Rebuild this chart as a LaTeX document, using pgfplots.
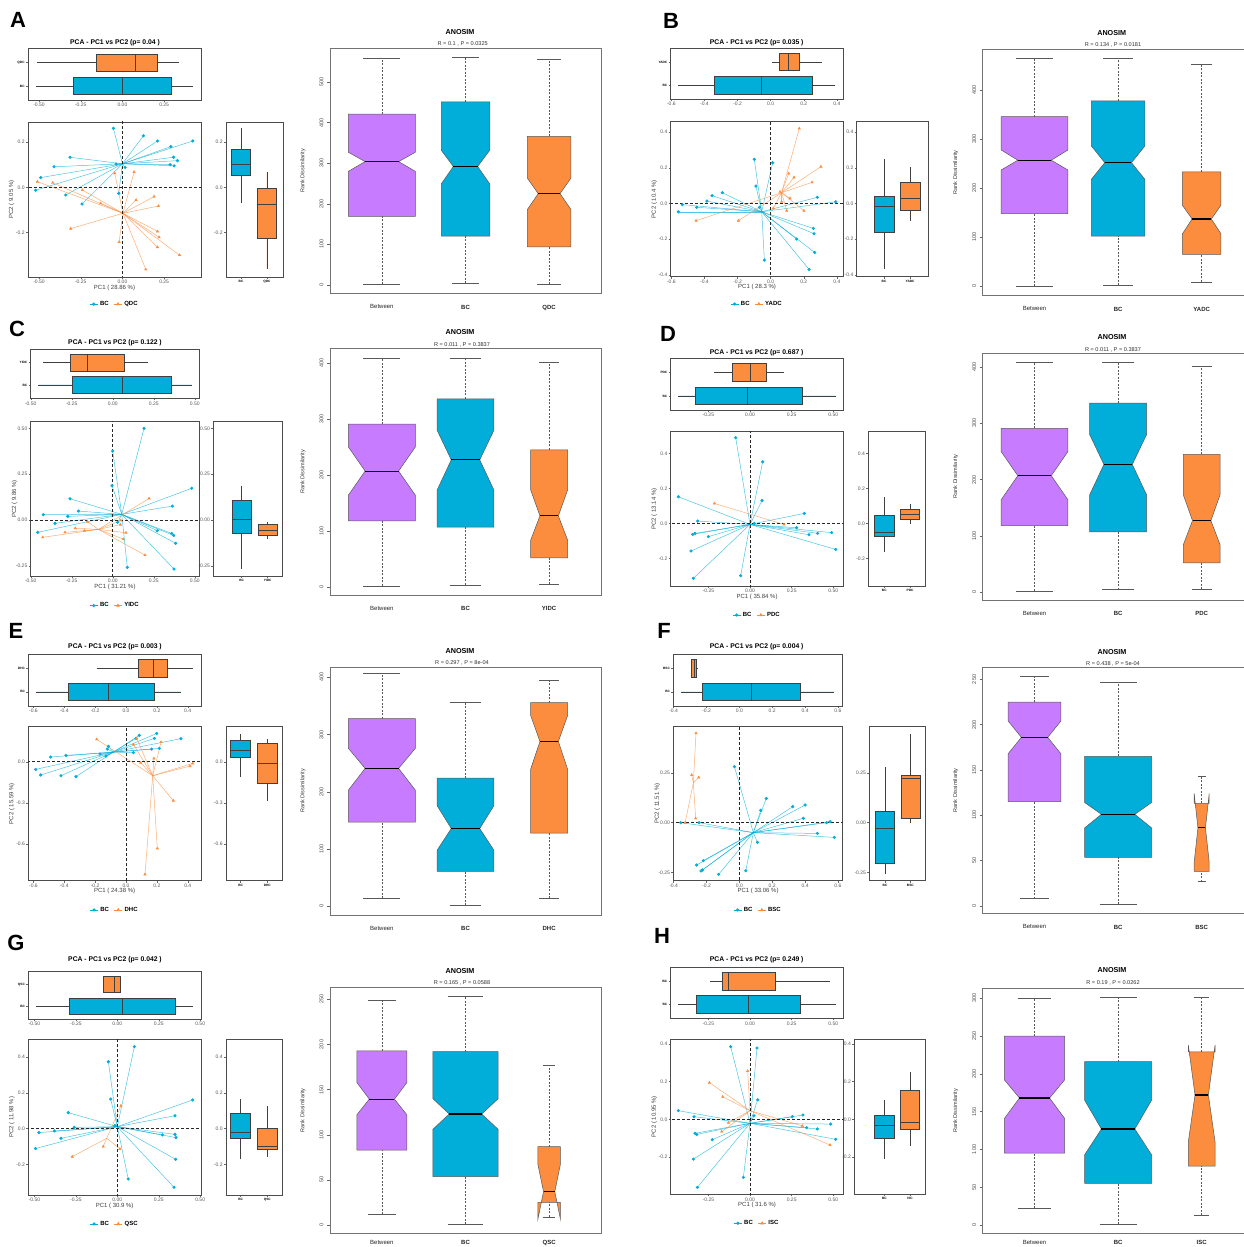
\documentclass[border=0pt]{standalone}
\usepackage{fontspec}
\setmainfont{Liberation Sans}
\usepackage{pgfplots}
\usepackage{pgfplotstable}
\pgfplotsset{compat=1.18}
\usepgfplotslibrary{statistics}

\definecolor{bcblue}{HTML}{00AED9}
\definecolor{orng}{HTML}{FC8D3F}
\definecolor{purp}{HTML}{C77CFF}
\colorlet{box1}{purp}
\colorlet{box2}{bcblue}
\colorlet{box3}{orng}

% ---------------- data: PCA scores ----------------
\pgfplotstableread{
x y
-0.054 0.261
0.126 0.228
0.21 0.205
0.422 0.205
0.29 0.18
0.307 0.133
0.33 0.118
0.286 0.1
0.31 0.095
-0.314 0.133
-0.41 0.091
-0.038 0.103
0.016 0.088
-0.49 0.043
-0.52 -0.013
-0.34 -0.034
-0.022 -0.027
-0.242 -0.074
}\tAbc
\pgfplotstableread{
x y
-0.51 0.025
-0.418 0.02
-0.046 0.062
0.07 0.068
-0.24 -0.012
-0.13 -0.071
0.082 -0.056
0.19 -0.041
0.216 -0.083
-0.31 -0.183
0.21 -0.195
0.22 -0.221
0.21 -0.265
0.342 -0.3
-0.02 -0.242
0.14 -0.363
}\tAg
\pgfplotstableread{
x y
-0.099 0.247
0.012 0.228
-0.089 0.097
-0.354 0.043
-0.292 0.06
-0.385 0.013
-0.534 -0.007
-0.447 -0.022
-0.558 -0.047
0.282 0.034
0.393 0.009
0.258 -0.14
0.262 -0.17
0.157 -0.2
0.266 -0.275
0.232 -0.37
-0.038 -0.318
-0.068 -0.022
}\tBbc
\pgfplotstableread{
x y
0.173 0.42
0.304 0.206
0.141 0.146
0.109 0.168
0.25 0.118
0.056 0.065
0.117 0.028
0.066 0.009
0.097 -0.041
0.201 -0.041
0.016 -0.028
-0.451 -0.097
-0.195 -0.097
}\tBg
\pgfplotstableread{
x y
0.191 0.5
0.0 0.376
-0.004 0.187
0.482 0.173
0.364 0.076
-0.26 0.116
-0.209 0.049
-0.423 0.029
-0.274 0.02
-0.352 -0.018
-0.457 -0.067
0.03 -0.013
0.272 -0.058
0.36 -0.073
0.372 -0.084
0.384 -0.127
0.374 -0.267
0.089 -0.258
}\tCbc
\pgfplotstableread{
x y
0.222 0.118
0.049 -0.002
0.047 -0.025
0.081 -0.069
0.065 -0.104
0.197 -0.191
-0.154 -0.009
-0.228 -0.044
-0.291 -0.067
-0.173 -0.058
-0.427 -0.094
}\tCg
\pgfplotstableread{
x y
-0.086 0.49
0.076 0.352
0.072 0.13
-0.43 0.152
0.326 0.057
-0.314 0.013
0.026 0.0
0.28 -0.025
0.354 -0.065
0.406 -0.057
0.49 -0.053
0.514 -0.149
-0.344 -0.063
-0.33 -0.057
-0.25 -0.076
-0.354 -0.158
-0.34 -0.314
-0.056 -0.299
}\tDbc
\pgfplotstableread{
x y
-0.214 0.114
0.204 -0.006
}\tDg
\pgfplotstableread{
x y
-0.585 -0.056
-0.553 -0.097
-0.421 -0.102
-0.324 -0.109
-0.488 0.034
-0.389 0.046
-0.168 0.056
-0.13 0.041
-0.121 0.092
-0.114 0.112
0.086 0.192
0.065 0.17
0.199 0.206
0.184 0.17
0.356 0.168
0.166 0.092
0.216 0.097
0.048 0.066
}\tEbc
\pgfplotstableread{
x y
-0.19 0.163
0.069 0.17
0.048 0.126
0.227 0.143
0.181 0.024
0.095 -0.007
0.432 -0.012
0.415 -0.032
0.307 -0.284
0.203 -0.632
0.123 -0.821
}\tEg
\pgfplotstableread{
x y
-0.357 0.0
-0.245 0.0
-0.03 0.282
0.164 0.122
0.13 0.062
0.325 0.081
0.4 0.089
0.389 0.022
0.552 0.005
0.531 0.0
0.475 -0.054
0.578 -0.074
0.11 -0.099
-0.219 -0.191
-0.26 -0.213
-0.225 -0.238
-0.233 -0.243
-0.126 -0.26
0.039 -0.242
}\tFbc
\pgfplotstableread{
x y
-0.264 0.45
-0.29 0.24
-0.247 0.228
-0.266 0.022
-0.33 0.0
}\tFg
\pgfplotstableread{
x y
0.103 0.457
-0.054 0.373
-0.04 0.165
0.455 0.16
0.348 0.072
-0.296 0.089
-0.26 0.007
-0.473 -0.022
-0.38 -0.013
-0.34 -0.054
-0.493 -0.111
0.272 -0.035
0.348 -0.032
0.354 -0.05
0.352 -0.171
0.066 -0.281
0.342 -0.327
-0.014 0.017
}\tGbc
\pgfplotstableread{
x y
0.022 0.128
-0.085 -0.1
0.016 -0.113
-0.272 -0.156
}\tGg
\pgfplotstableread{
x y
-0.116 0.386
0.042 0.379
0.046 0.104
-0.43 0.046
-0.336 0.014
0.024 0.019
0.254 0.014
0.318 0.023
0.34 -0.044
0.404 -0.051
0.484 -0.025
0.514 -0.106
-0.33 -0.074
-0.32 -0.08
-0.226 -0.108
-0.34 -0.211
-0.316 -0.361
-0.04 -0.308
}\tHbc
\pgfplotstableread{
x y
-0.244 0.195
-0.164 0.12
-0.014 0.257
-0.13 -0.018
-0.17 -0.065
0.314 -0.035
0.48 -0.136
}\tHg

% ---------------- styles ----------------
\pgfplotsset{
 gg/.style={scale only axis, anchor=south west, tick pos=left,
   axis line style={draw=black!70, line width=0.9pt},
   tick style={draw=black!60, line width=0.4pt},
   tick align=outside, major tick length=2pt,
   ticklabel style={font=\fontsize{5}{6}\selectfont, text=black!65, inner sep=1.2pt},
   /pgf/number format/assume math mode=true,
   boxplot/every median/.style={line width=1pt}},
 px/.style={xticklabel style={/pgf/number format/.cd, fixed, fixed zerofill, precision=#1}},
 py/.style={yticklabel style={/pgf/number format/.cd, fixed, fixed zerofill, precision=#1}},
 topbox/.style={gg, ymin=0.4, ymax=2.6, ytick={1,2}, boxplot/draw direction=x,
   yticklabel style={font=\fontsize{3.2}{3.5}\selectfont\bfseries, text=black}},
 rbox/.style={gg, xtick={1,2}, boxplot/draw direction=y,
   xticklabel style={font=\fontsize{3.2}{3.5}\selectfont\bfseries, text=black}},
 sc/.style={gg,
   xlabel style={at={(axis description cs:0.5,-0.068)}, anchor=center, font=\fontsize{6}{7}\selectfont, text=black!75},
   ylabel style={at={(axis description cs:-0.095,0.5)}, anchor=center, font=\fontsize{6}{7}\selectfont, text=black!75},
   legend columns=2,
   legend style={at={(0.5,-0.18)}, anchor=center, draw=none, fill=none, inner sep=0pt,
     font=\fontsize{6}{7}\selectfont\bfseries, /tikz/every even column/.append style={column sep=3pt}},
   legend image code/.code={\draw[mark repeat=2,mark phase=2,##1] plot coordinates {(0pt,0pt) (4pt,0pt) (8pt,0pt)};}},
 an/.style={scale only axis, anchor=south west, tick pos=left,
   axis line style={draw=black!55, line width=0.8pt},
   tick style={draw=black!60, line width=0.4pt},
   tick align=outside, major tick length=3pt,
   xmin=0.38, xmax=3.62, xtick={1,2,3}, xtick style={draw=none},
   xticklabel style={font=\fontsize{6}{7}\selectfont, text=black!85, yshift=-5pt},
   yticklabel style={rotate=90, anchor=south, font=\fontsize{5.5}{6}\selectfont, text=black!70},
   /pgf/number format/assume math mode=true,
   ylabel={Rank Dissimilarity},
   ylabel style={at={(axis description cs:-0.1,0.5)}, anchor=center, font=\fontsize{5.5}{6}\selectfont, text=black!80}},
}

% plain (ggplot) box: pos, lw, q1, med, q3, uw, colour
\newcommand{\gbox}[7]{%
\addplot[boxplot prepared={draw position=#1, lower whisker=#2, lower quartile=#3, median=#4, upper quartile=#5, upper whisker=#6, box extend=0.75, whisker extend=0}, fill=#7, draw=black!75, line width=0.6pt, forget plot] coordinates {};}

% notched (R) box: pos, halfwidth, min, q1, notch low, median, notch high, q3, max
\newcommand{\nbox}[9]{%
\addplot[black!65, dashed, dash pattern=on 2pt off 1.5pt, line width=0.4pt, forget plot] table[row sep=\\] {a b\\ #1 #8\\ #1 #9\\};
\addplot[black!65, dashed, dash pattern=on 2pt off 1.5pt, line width=0.4pt, forget plot] table[row sep=\\] {a b\\ #1 #3\\ #1 #4\\};
\addplot[black!65, line width=0.5pt, forget plot] table[x expr=\thisrow{a}*#2*0.55+#1, y=b, row sep=\\] {a b\\ -1 #9\\ 1 #9\\};
\addplot[black!65, line width=0.5pt, forget plot] table[x expr=\thisrow{a}*#2*0.55+#1, y=b, row sep=\\] {a b\\ -1 #3\\ 1 #3\\};
\addplot[fill=box#1, draw=black!65, line width=0.5pt, forget plot] table[x expr=\thisrow{a}*#2+#1, y=b, row sep=\\] {a b\\ -1 #4\\ 1 #4\\ 1 #5\\ 0.5 #6\\ 1 #7\\ 1 #8\\ -1 #8\\ -1 #7\\ -0.5 #6\\ -1 #5\\ -1 #4\\};
\addplot[black, line width=1.1pt, forget plot] table[x expr=\thisrow{a}*#2+#1, y=b, row sep=\\] {a b\\ -0.5 #6\\ 0.5 #6\\};}

% spider lines: table, centroid x, centroid y, colour
\newcommand{\spl}[4]{%
\addplot[#4, line width=0.5pt, draw opacity=0.7, quiver={u={#2-\thisrow{x}}, v={#3-\thisrow{y}}}, forget plot] table {#1};}
% points
\newcommand{\spp}[3]{%
\addplot[only marks, #2, mark=#3, mark size=1.4pt, forget plot] table {#1};}
\newcommand{\zl}{%
\addplot[black!85, line width=0.9pt, dash pattern=on 3pt off 2pt, forget plot] coordinates {(0,-2) (0,2)};
\addplot[black!85, line width=0.9pt, dash pattern=on 3pt off 2pt, forget plot] coordinates {(-2,0) (2,0)};}
\newcommand{\leg}[1]{%
\addlegendimage{bcblue, mark=*, mark size=1.3pt, line width=0.6pt}\addlegendentry{BC}
\addlegendimage{orng, mark=triangle*, mark size=1.5pt, line width=0.6pt}\addlegendentry{#1}}

\newcommand{\lett}[3]{\node[font=\fontsize{22}{22}\selectfont\bfseries] at (#1pt,-#2pt) {#3};}
\newcommand{\ttl}[3]{\node[font=\fontsize{6.8}{8}\selectfont\bfseries] at (#1pt,-#2pt) {#3};}
\newcommand{\ant}[5]{\node[font=\fontsize{7.2}{8}\selectfont\bfseries] at (#1pt,-#2pt) {ANOSIM};
\node[font=\fontsize{5.6}{6}\selectfont, text=black!80] at (#3pt,-#4pt) {#5};}

\begin{document}
\begin{tikzpicture}
\useasboundingbox (0pt,0pt) rectangle (1244pt,-1247pt);
\fill[white] (0pt,0pt) rectangle (1244pt,-1247pt);

% ======================= PANEL A =======================
\lett{18}{20}{A}
\ttl{115}{42.7}{PCA - PC1 vs PC2 (p= 0.04 )}
\ant{460}{31.7}{462.7}{44}{R = 0.1 ,  P = 0.0325}
\begin{axis}[topbox, px=2, at={(28pt,-100pt)}, width=173pt, height=51.3pt, xmin=-0.566, xmax=0.471, xtick={-0.5,-0.25,0,0.25}, yticklabels={BC,QDC}]
\gbox{1}{-0.518}{-0.293}{0}{0.29}{0.422}{bcblue}
\gbox{2}{-0.51}{-0.154}{0.076}{0.21}{0.34}{orng}
\end{axis}
\begin{axis}[sc, px=2, py=1, at={(28pt,-277pt)}, width=173pt, height=155pt, xmin=-0.566, xmax=0.471, ymin=-0.397, ymax=0.289, xtick={-0.5,-0.25,0,0.25}, ytick={-0.2,0,0.2}, xlabel={PC1 ( 28.86 \%)}, ylabel={PC2 ( 9.05 \%)}, legend style={at={(0.5,-0.175)}}]
\spl{\tAbc}{0}{0.104}{bcblue}
\spl{\tAg}{0.003}{-0.115}{orng}
\zl
\spp{\tAbc}{bcblue}{*}
\spp{\tAg}{orng}{triangle*}
\leg{QDC}
\end{axis}
\begin{axis}[rbox, py=1, at={(226pt,-277pt)}, width=57pt, height=155pt, xmin=0.42, xmax=2.62, ymin=-0.397, ymax=0.289, ytick={-0.2,0,0.2}, xticklabels={BC,QDC}]
\gbox{1}{-0.071}{0.053}{0.102}{0.168}{0.261}{bcblue}
\gbox{2}{-0.363}{-0.226}{-0.077}{-0.004}{0.066}{orng}
\end{axis}
\begin{axis}[an, at={(330pt,-293.3pt)}, width=271pt, height=245pt, ymin=-20.8, ymax=583.4, ytick={0,100,200,300,400,500}, xticklabels={Between,\textbf{BC},\textbf{QDC}}]
\nbox{1}{0.4}{1.6}{169}{280}{304}{327}{421}{560}
\nbox{2}{0.29}{4}{120}{249}{292}{332}{451}{561}
\nbox{3}{0.26}{1.6}{94}{186}{225}{263}{366}{556}
\end{axis}

% ======================= PANEL B =======================
\lett{671}{21}{B}
\ttl{756.7}{42.3}{PCA - PC1 vs PC2 (p= 0.035 )}
\ant{1111.7}{33.3}{1113}{45}{R = 0.134 ,  P = 0.0181}
\begin{axis}[topbox, px=1, at={(670.7pt,-99pt)}, width=172.6pt, height=50.7pt, xmin=-0.604, xmax=0.439, xtick={-0.6,-0.4,-0.2,0,0.2,0.4}, yticklabels={BC,YADC}]
\gbox{1}{-0.558}{-0.34}{-0.054}{0.252}{0.391}{bcblue}
\gbox{2}{0.006}{0.052}{0.107}{0.173}{0.308}{orng}
\end{axis}
\begin{axis}[sc, px=1, py=1, at={(670.7pt,-276.7pt)}, width=172.6pt, height=155pt, xmin=-0.604, xmax=0.439, ymin=-0.411, ymax=0.458, xtick={-0.6,-0.4,-0.2,0,0.2,0.4}, ytick={-0.4,-0.2,0,0.2,0.4}, xlabel={PC1 ( 28.3 \%)}, ylabel={PC2 ( 10.4 \%)}, legend style={at={(0.5,-0.176)}}]
\spl{\tBbc}{-0.054}{-0.047}{bcblue}
\spl{\tBg}{0.066}{0.06}{orng}
\zl
\spp{\tBbc}{bcblue}{*}
\spp{\tBg}{orng}{triangle*}
\leg{YADC}
\end{axis}
\begin{axis}[rbox, py=1, at={(856.7pt,-276.7pt)}, width=71.6pt, height=155pt, xmin=-0.05, xmax=2.7, ymin=-0.411, ymax=0.458, ytick={-0.4,-0.2,0,0.2,0.4}, xticklabels={BC,YADC}]
\gbox{1}{-0.37}{-0.163}{-0.019}{0.041}{0.247}{bcblue}
\gbox{2}{-0.097}{-0.041}{0.028}{0.118}{0.206}{orng}
\end{axis}
\begin{axis}[an, at={(982.7pt,-295.3pt)}, width=270.8pt, height=246pt, ymin=-18.6, ymax=483.3, ytick={0,100,200,300,400}, xticklabels={Between,\textbf{BC},\textbf{YADC}}]
\nbox{1}{0.4}{0}{148}{237}{257}{278}{346}{465}
\nbox{2}{0.32}{1.4}{102}{218}{252}{286}{378}{465}
\nbox{3}{0.23}{8.8}{65}{107}{137}{165}{233}{452}
\end{axis}

% ======================= PANEL C =======================
\lett{17}{329}{C}
\ttl{115}{342.7}{PCA - PC1 vs PC2 (p= 0.122 )}
\ant{460}{332}{462}{345}{R = 0.011 ,  P = 0.3837}
\begin{axis}[topbox, px=2, at={(30.7pt,-398.3pt)}, width=168.6pt, height=49pt, xmin=-0.5, xmax=0.528, xtick={-0.5,-0.25,0,0.25,0.5}, yticklabels={BC,YIDC}]
\gbox{1}{-0.453}{-0.246}{0.059}{0.36}{0.482}{bcblue}
\gbox{2}{-0.423}{-0.26}{-0.154}{0.071}{0.217}{orng}
\end{axis}
\begin{axis}[sc, px=2, py=2, at={(30.7pt,-576pt)}, width=168.6pt, height=154.3pt, xmin=-0.5, xmax=0.528, ymin=-0.305, ymax=0.536, xtick={-0.5,-0.25,0,0.25,0.5}, ytick={-0.25,0,0.25,0.5}, xlabel={PC1 ( 31.21 \%)}, ylabel={PC2 ( 9.86 \%)}, legend style={at={(0.5,-0.192)}}]
\spl{\tCbc}{0.055}{0.031}{bcblue}
\spl{\tCg}{-0.087}{-0.051}{orng}
\zl
\spp{\tCbc}{bcblue}{*}
\spp{\tCg}{orng}{triangle*}
\leg{YIDC}
\end{axis}
\begin{axis}[rbox, py=2, at={(213.3pt,-576pt)}, width=69.4pt, height=154.3pt, xmin=-0.09, xmax=2.58, ymin=-0.305, ymax=0.536, ytick={-0.25,0,0.25,0.5}, xticklabels={BC,YIDC}]
\gbox{1}{-0.269}{-0.073}{0.004}{0.105}{0.187}{bcblue}
\gbox{2}{-0.105}{-0.084}{-0.058}{-0.024}{-0.013}{orng}
\end{axis}
\begin{axis}[an, at={(330pt,-595pt)}, width=271pt, height=246.2pt, ymin=-14.3, ymax=425.3, ytick={0,100,200,300,400}, xticklabels={Between,\textbf{BC},\textbf{YIDC}}]
\nbox{1}{0.4}{2}{118}{164}{207}{250}{291}{409}
\nbox{2}{0.34}{4}{107}{173}{227}{280}{336}{409}
\nbox{3}{0.22}{5}{52}{84}{127}{173}{245}{402}
\end{axis}

% ======================= PANEL D =======================
\lett{668}{334}{D}
\ttl{756.7}{352.7}{PCA - PC1 vs PC2 (p= 0.687 )}
\ant{1112}{337}{1113}{350}{R = 0.011 ,  P = 0.3837}
\begin{axis}[topbox, px=2, at={(670.7pt,-410pt)}, width=172.6pt, height=51.7pt, xmin=-0.476, xmax=0.56, xtick={-0.25,0,0.25,0.5}, yticklabels={BC,PDC}]
\gbox{1}{-0.43}{-0.326}{-0.016}{0.314}{0.514}{bcblue}
\gbox{2}{-0.214}{-0.106}{0}{0.1}{0.204}{orng}
\end{axis}
\begin{axis}[sc, px=2, py=1, at={(670.7pt,-586pt)}, width=172.6pt, height=154.3pt, xmin=-0.476, xmax=0.56, ymin=-0.358, ymax=0.524, xtick={-0.25,0,0.25,0.5}, ytick={-0.2,0,0.2,0.4}, xlabel={PC1 ( 35.84 \%)}, ylabel={PC2 ( 13.14 \%)}, legend style={at={(0.5,-0.188)}}]
\spl{\tDbc}{0}{-0.006}{bcblue}
\spl{\tDg}{-0.005}{0.054}{orng}
\zl
\spp{\tDbc}{bcblue}{*}
\spp{\tDg}{orng}{triangle*}
\leg{PDC}
\end{axis}
\begin{axis}[rbox, py=1, at={(868.3pt,-586pt)}, width=56.7pt, height=154.3pt, xmin=0.38, xmax=2.58, ymin=-0.358, ymax=0.524, ytick={-0.2,0,0.2,0.4}, xticklabels={BC,PDC}]
\gbox{1}{-0.162}{-0.076}{-0.053}{0.048}{0.152}{bcblue}
\gbox{2}{-0.006}{0.023}{0.053}{0.08}{0.11}{orng}
\end{axis}
\begin{axis}[an, at={(982.7pt,-600pt)}, width=270.8pt, height=247pt, ymin=-14.3, ymax=425.3, ytick={0,100,200,300,400}, xticklabels={Between,\textbf{BC},\textbf{PDC}}]
\nbox{1}{0.4}{2}{118}{164}{207}{250}{291}{409}
\nbox{2}{0.34}{4}{107}{173}{227}{280}{336}{409}
\nbox{3}{0.22}{5}{52}{84}{127}{173}{245}{402}
\end{axis}

% ======================= PANEL E =======================
\lett{16}{631}{E}
\ttl{115}{646.7}{PCA - PC1 vs PC2 (p= 0.003 )}
\ant{460}{651}{462}{663}{R = 0.297 ,  P = 8e-04}
\begin{axis}[topbox, px=1, at={(28.3pt,-706pt)}, width=172.7pt, height=52pt, xmin=-0.633, xmax=0.486, xtick={-0.6,-0.4,-0.2,0,0.2,0.4}, yticklabels={BC,DHC}]
\gbox{1}{-0.585}{-0.374}{-0.114}{0.181}{0.356}{bcblue}
\gbox{2}{-0.19}{0.08}{0.181}{0.268}{0.432}{orng}
\end{axis}
\begin{axis}[sc, px=1, py=1, at={(28.3pt,-880.7pt)}, width=172.7pt, height=154pt, xmin=-0.633, xmax=0.486, ymin=-0.867, ymax=0.255, xtick={-0.6,-0.4,-0.2,0,0.2,0.4}, ytick={-0.6,-0.3,0}, xlabel={PC1 ( 24.38 \%)}, ylabel={PC2 ( 15.59 \%)}, legend style={at={(0.5,-0.19)}}]
\spl{\tEbc}{-0.082}{0.07}{bcblue}
\spl{\tEg}{0.173}{-0.102}{orng}
\zl
\spp{\tEbc}{bcblue}{*}
\spp{\tEg}{orng}{triangle*}
\leg{DHC}
\end{axis}
\begin{axis}[rbox, py=1, at={(226pt,-880.7pt)}, width=56.7pt, height=154pt, xmin=0.45, xmax=2.58, ymin=-0.867, ymax=0.255, ytick={-0.6,-0.3,0}, xticklabels={BC,DHC}]
\gbox{1}{-0.109}{0.032}{0.08}{0.158}{0.202}{bcblue}
\gbox{2}{-0.284}{-0.158}{-0.012}{0.134}{0.165}{orng}
\end{axis}
\begin{axis}[an, at={(330pt,-915pt)}, width=271pt, height=248pt, ymin=-15, ymax=418, ytick={0,100,200,300,400}, xticklabels={Between,\textbf{BC},\textbf{DHC}}]
\nbox{1}{0.4}{14}{147}{203}{241}{276}{328}{407}
\nbox{2}{0.34}{2}{61}{98}{136}{176}{224}{356}
\nbox{3}{0.22}{14}{128}{240}{288}{333}{356}{395}
\end{axis}

% ======================= PANEL F =======================
\lett{664}{631}{F}
\ttl{756.7}{646.7}{PCA - PC1 vs PC2 (p= 0.004 )}
\ant{1112}{651.7}{1113}{664}{R = 0.438 ,  P = 5e-04}
\begin{axis}[topbox, px=1, at={(673.3pt,-706pt)}, width=169.4pt, height=52pt, xmin=-0.402, xmax=0.629, xtick={-0.4,-0.2,0,0.2,0.4,0.6}, yticklabels={BC,BSC}]
\gbox{1}{-0.355}{-0.223}{0.075}{0.373}{0.578}{bcblue}
\gbox{2}{-0.29}{-0.29}{-0.274}{-0.264}{-0.25}{orng}
\end{axis}
\begin{axis}[sc, px=1, py=2, at={(673.3pt,-880.7pt)}, width=169.4pt, height=154pt, xmin=-0.402, xmax=0.629, ymin=-0.292, ymax=0.483, xtick={-0.4,-0.2,0,0.2,0.4,0.6}, ytick={-0.25,0,0.25}, xlabel={PC1 ( 33.06 \%)}, ylabel={PC2 ( 11.51 \%)}, legend style={at={(0.5,-0.19)}}]
\spl{\tFbc}{0.085}{-0.05}{bcblue}
\spl{\tFg}{-0.28}{0.2}{orng}
\zl
\spp{\tFbc}{bcblue}{*}
\spp{\tFg}{orng}{triangle*}
\leg{BSC}
\end{axis}
\begin{axis}[rbox, py=2, at={(869.3pt,-880.7pt)}, width=55.7pt, height=154pt, xmin=0.38, xmax=2.58, ymin=-0.292, ymax=0.483, ytick={-0.25,0,0.25}, xticklabels={BC,BSC}]
\gbox{1}{-0.26}{-0.205}{-0.029}{0.055}{0.282}{bcblue}
\gbox{2}{0}{0.022}{0.223}{0.237}{0.446}{orng}
\end{axis}
\begin{axis}[an, at={(982.7pt,-913.3pt)}, width=270.8pt, height=246pt, ymin=-8.4, ymax=263.4, ytick={0,50,100,150,200,250}, xticklabels={Between,\textbf{BC},\textbf{BSC}}]
\nbox{1}{0.315}{7.7}{115}{168}{186}{204}{225}{253.5}
\nbox{2}{0.4}{1.5}{53.5}{86}{101}{114}{165}{247}
\nbox{3}{0.09}{26.5}{38}{48}{86}{124}{113}{143}
\end{axis}

% ======================= PANEL G =======================
\lett{16}{943}{G}
\ttl{115}{960}{PCA - PC1 vs PC2 (p= 0.042 )}
\ant{460}{970.7}{462}{983.3}{R = 0.165 ,  P = 0.0588}
\begin{axis}[topbox, px=2, at={(28.3pt,-1019pt)}, width=172.7pt, height=47.3pt, xmin=-0.537, xmax=0.505, xtick={-0.5,-0.25,0,0.25,0.5}, yticklabels={BC,QSC}]
\gbox{1}{-0.493}{-0.29}{0.03}{0.348}{0.455}{bcblue}
\gbox{2}{-0.085}{-0.085}{-0.014}{0.016}{0.02}{orng}
\end{axis}
\begin{axis}[sc, px=2, py=1, at={(28.3pt,-1195pt)}, width=172.7pt, height=155.7pt, xmin=-0.537, xmax=0.505, ymin=-0.37, ymax=0.498, xtick={-0.5,-0.25,0,0.25,0.5}, ytick={-0.2,0,0.2,0.4}, xlabel={PC1 ( 30.9 \%)}, ylabel={PC2 ( 11.98 \%)}, legend style={at={(0.5,-0.186)}}]
\spl{\tGbc}{0}{0.011}{bcblue}
\spl{\tGg}{-0.064}{-0.054}{orng}
\zl
\spp{\tGbc}{bcblue}{*}
\spp{\tGg}{orng}{triangle*}
\leg{QSC}
\end{axis}
\begin{axis}[rbox, py=1, at={(226pt,-1195pt)}, width=56.7pt, height=155.7pt, xmin=0.45, xmax=2.58, ymin=-0.37, ymax=0.498, ytick={-0.2,0,0.2,0.4}, xticklabels={BC,QSC}]
\gbox{1}{-0.171}{-0.054}{-0.02}{0.085}{0.165}{bcblue}
\gbox{2}{-0.156}{-0.115}{-0.1}{0.002}{0.128}{orng}
\end{axis}
\begin{axis}[an, at={(330pt,-1233.3pt)}, width=271pt, height=246pt, ymin=-9.2, ymax=263.4, ytick={0,50,100,150,200,250}, xticklabels={Between,\textbf{BC},\textbf{QSC}}, xticklabel style={yshift=4.5pt}]
\nbox{1}{0.3}{11.8}{83}{122}{139.5}{158}{193}{249}
\nbox{2}{0.39}{0.8}{53.5}{106}{123}{140}{192}{253}
\nbox{3}{0.135}{9}{25}{6.3}{37}{67.5}{87}{177}
\end{axis}

% ======================= PANEL H =======================
\lett{662}{936}{H}
\ttl{756.7}{960}{PCA - PC1 vs PC2 (p= 0.249 )}
\ant{1112}{970}{1113}{983}{R = 0.19 ,  P = 0.0262}
\begin{axis}[topbox, px=2, at={(670.7pt,-1018.3pt)}, width=172.6pt, height=51pt, xmin=-0.476, xmax=0.56, xtick={-0.25,0,0.25,0.5}, yticklabels={BC,ISC}]
\gbox{1}{-0.43}{-0.324}{-0.008}{0.304}{0.514}{bcblue}
\gbox{2}{-0.24}{-0.164}{-0.13}{0.15}{0.48}{orng}
\end{axis}
\begin{axis}[sc, px=2, py=1, at={(670.7pt,-1194.3pt)}, width=172.6pt, height=155pt, xmin=-0.476, xmax=0.56, ymin=-0.398, ymax=0.425, xtick={-0.25,0,0.25,0.5}, ytick={-0.2,0,0.2,0.4}, xlabel={PC1 ( 31.6 \%)}, ylabel={PC2 ( 10.95 \%)}, legend style={at={(0.5,-0.187)}}]
\spl{\tHbc}{0}{-0.021}{bcblue}
\spl{\tHg}{0}{0.046}{orng}
\zl
\spp{\tHbc}{bcblue}{*}
\spp{\tHg}{orng}{triangle*}
\leg{ISC}
\end{axis}
\begin{axis}[rbox, py=1, at={(854.3pt,-1194.3pt)}, width=70.7pt, height=155pt, xmin=-0.167, xmax=2.58, ymin=-0.398, ymax=0.425, ytick={-0.2,0,0.2,0.4}, xticklabels={BC,ISC}]
\gbox{1}{-0.211}{-0.101}{-0.035}{0.021}{0.104}{bcblue}
\gbox{2}{-0.14}{-0.053}{-0.018}{0.156}{0.253}{orng}
\end{axis}
\begin{axis}[an, at={(982.7pt,-1233.3pt)}, width=270.8pt, height=244.9pt, ymin=-11, ymax=313, ytick={0,50,100,150,200,250,300}, xticklabels={Between,\textbf{BC},\textbf{ISC}}, xticklabel style={yshift=4.5pt}]
\nbox{1}{0.36}{22}{95}{141}{168}{192}{250}{300}
\nbox{2}{0.4}{1}{55}{93}{127}{165}{216}{301}
\nbox{3}{0.16}{13}{78}{110}{172}{238}{229}{301}
\end{axis}
\end{tikzpicture}
\end{document}
